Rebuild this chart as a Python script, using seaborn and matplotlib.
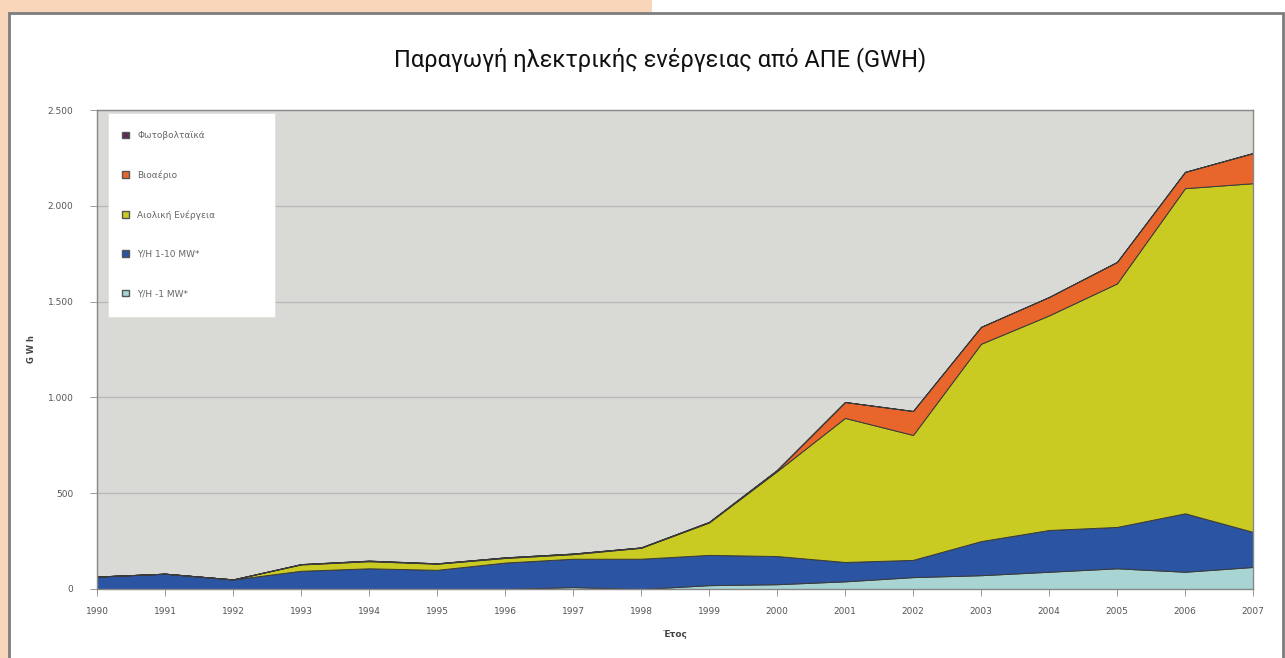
import numpy as np
import pandas as pd
import matplotlib.pyplot as plt
import seaborn as sns
from matplotlib.patches import Rectangle, Patch
from matplotlib.ticker import FuncFormatter

# Data (GWh)
years = list(range(1990, 2008))
hydro_small = [0, 0, 0, 0, 0, 0, 0, 10, 0, 20, 25, 40, 62, 72, 90, 108, 90, 115]
hydro_mid = [65, 80, 50, 95, 108, 100, 138, 148, 158, 158, 147, 101, 90, 178, 218, 216, 305, 183]
wind = [0, 0, 0, 33, 37, 32, 24, 24, 57, 169, 443, 752, 652, 1030, 1120, 1271, 1697, 1820]
biogas = [0, 0, 0, 2, 3, 2, 3, 3, 2, 3, 6, 83, 125, 88, 96, 112, 85, 157]
solar = [0, 0, 0, 0, 0, 0, 0, 0, 0, 0, 0, 0, 0, 0, 0, 0, 0, 1]

series_names = ["Υ/Η -1 MW*", "Υ/Η 1-10 MW*", "Αιολική Ενέργεια", "Βιοαέριο", "Φωτοβολταϊκά"]
colors = ["#a8d4d4", "#2b54a2", "#c9cb22", "#e8662b", "#5a2c54"]

df = pd.DataFrame({"year": years, series_names[0]: hydro_small, series_names[1]: hydro_mid,
                   series_names[2]: wind, series_names[3]: biogas, series_names[4]: solar})

sns.set_theme(style="white")
plt.rcParams['font.family'] = ['DejaVu Sans']

W, H = 1285, 658
fig = plt.figure(figsize=(W / 100, H / 100), dpi=100)
fig.patch.set_facecolor("#f9d6b9")

# page frame: white panel with grey border, white corner top right
fig.add_artist(Rectangle((652 / W, 1 - 13 / H), 1 - 652 / W, 13 / H, transform=fig.transFigure,
                         facecolor="white", edgecolor="none", zorder=0))
fig.add_artist(Rectangle((9 / W, -0.01), (1283 - 9) / W, 1 - 13 / H + 0.01, transform=fig.transFigure,
                         facecolor="white", edgecolor="#7d7d7d", linewidth=2, zorder=0))

ax = fig.add_axes([97 / W, 1 - 589 / H, (1253 - 97) / W, (589 - 110) / H])
ax.set_facecolor("#d9d9d6")

ax.stackplot(df["year"], *[df[c] for c in series_names], colors=colors,
             edgecolor="#3a3a3a", linewidth=0.7, zorder=2)

ax.set_xlim(1990, 2007)
ax.set_ylim(0, 2500)
ax.set_yticks(range(0, 2501, 500))
ax.set_xticks(years)
ax.yaxis.set_major_formatter(FuncFormatter(lambda v, p: f"{int(v):,}".replace(",", ".")))
ax.grid(axis="y", color="#b9b9b9", linewidth=0.9, zorder=1)
ax.set_axisbelow(True)
ax.tick_params(axis="both", labelsize=6.5, labelcolor="#555555", colors="#999999",
               length=5, width=0.7, direction="out")
ax.tick_params(axis="x", pad=8)
ax.tick_params(axis="y", pad=12)
ax.tick_params(left=True, bottom=True)
for s in ax.spines.values():
    s.set_color("#888888")
    s.set_linewidth(1.0)

ax.set_xlabel("Έτος", fontsize=6.5, fontweight="bold", color="#444444", labelpad=10)
ax.set_ylabel("G W h", fontsize=6, fontweight="bold", color="#444444", labelpad=8)

# legend box (white panel drawn separately so it is as wide as in the reference)
ax.add_patch(Rectangle(((108 - 97) / 1156, (589 - 317) / 479), (275 - 108) / 1156, (317 - 113) / 479,
                       transform=ax.transAxes, facecolor="white", edgecolor="#dddddd",
                       linewidth=0.5, zorder=4))
handles = [Patch(facecolor=colors[i], edgecolor="#555555", label=series_names[i]) for i in range(4, -1, -1)]
leg = ax.legend(handles=handles, loc="upper left", bbox_to_anchor=(0.009, 0.986),
                fontsize=6.5, labelspacing=3.35, handlelength=0.8, handleheight=0.8,
                borderpad=1.6, handletextpad=0.9, borderaxespad=0, frameon=False)
leg.set_zorder(5)
for t in leg.get_texts():
    t.set_color("#666666")

fig.text(0.514, 1 - 60 / H, "Παραγωγή ηλεκτρικής ενέργειας από ΑΠΕ (GWH)", ha="center", va="center",
         fontsize=17, family=["Roboto", "DejaVu Sans"], color="#111111")

fig.savefig("out.png", dpi=100)
